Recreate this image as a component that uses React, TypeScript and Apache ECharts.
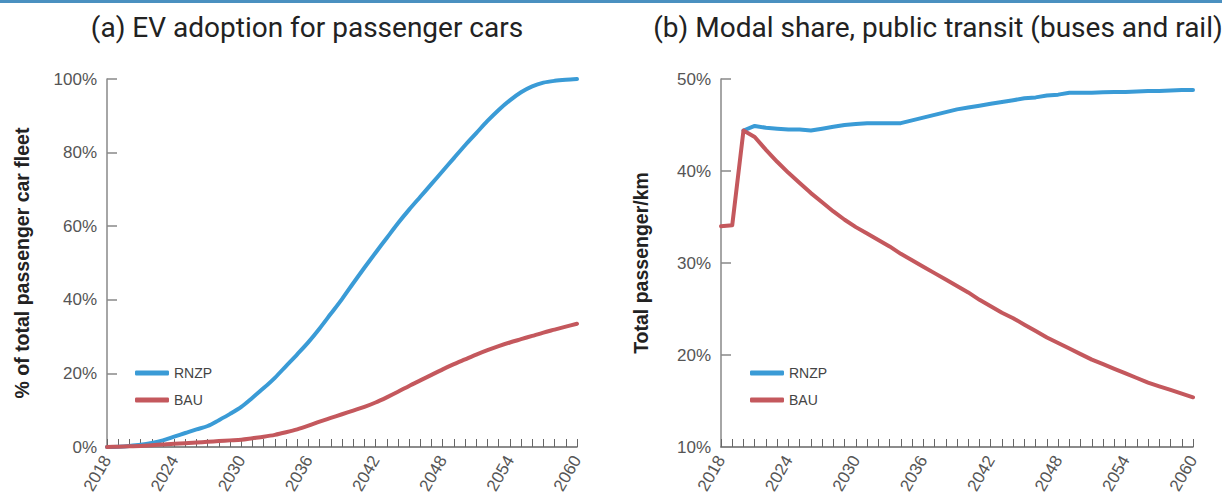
import React, { useEffect, useRef } from "react";
import * as echarts from "echarts";

const years: string[] = [];
for (let y = 2018; y <= 2060; y++) years.push(String(y));

const evRNZP = [
  0, 0.1, 0.3, 0.6, 1.1, 1.8, 2.8, 3.8, 4.8, 5.7, 7.3, 9.0, 10.9, 13.4, 16.0, 18.8,
  22.0, 25.2, 28.5, 32.2, 36.2, 40.2, 44.5, 48.7, 52.8, 56.8, 60.8, 64.5, 68.0, 71.5,
  75.0, 78.5, 82.0, 85.3, 88.6, 91.6, 94.2, 96.4, 98.0, 99.0, 99.5, 99.8, 100,
];
const evBAU = [
  0, 0.1, 0.2, 0.3, 0.5, 0.7, 0.9, 1.0, 1.2, 1.4, 1.6, 1.8, 2.0, 2.4, 2.8, 3.3, 4.0,
  4.8, 5.8, 6.9, 7.9, 8.9, 9.9, 10.9, 12.1, 13.5, 15.0, 16.6, 18.1, 19.6, 21.1, 22.5,
  23.8, 25.1, 26.3, 27.4, 28.4, 29.3, 30.2, 31.1, 31.9, 32.7, 33.5,
];
const ptRNZP: (number | null)[] = [
  null, null, 44.4, 44.9, 44.7, 44.6, 44.5, 44.5, 44.4, 44.6, 44.8, 45.0, 45.1, 45.2,
  45.2, 45.2, 45.2, 45.5, 45.8, 46.1, 46.4, 46.7, 46.9, 47.1, 47.3, 47.5, 47.7, 47.9,
  48.0, 48.2, 48.3, 48.5, 48.5, 48.5, 48.55, 48.6, 48.6, 48.65, 48.7, 48.7, 48.75,
  48.8, 48.8,
];
const ptBAU = [
  34.0, 34.1, 44.4, 43.7, 42.3, 41.0, 39.8, 38.7, 37.6, 36.6, 35.6, 34.7, 33.9, 33.2,
  32.5, 31.8, 31.0, 30.3, 29.6, 28.9, 28.2, 27.5, 26.8, 26.0, 25.3, 24.6, 24.0, 23.3,
  22.6, 21.9, 21.3, 20.7, 20.1, 19.5, 19.0, 18.5, 18.0, 17.5, 17.0, 16.6, 16.2, 15.8,
  15.4,
];
const titles = ["(a) EV adoption for passenger cars", "(b) Modal share, public transit (buses and rail)"];
const yNames = ["% of total passenger car fleet", "Total passenger/km"];
const seriesNames = ["RNZP", "BAU"];

const BLUE = "#3a9bd6";
const RED = "#c4585d";
const LABEL = "#555555";
const FONT = "'Liberation Sans', Arial, sans-serif";

export default function App() {
  const ref = useRef<HTMLDivElement>(null);
  useEffect(() => {
    document.body.style.margin = "0";
    const chart = echarts.init(ref.current!, undefined, { renderer: "svg" });
    const xAxisBase = (gridIndex: number) => ({
      type: "category" as const,
      gridIndex,
      data: years,
      boundaryGap: false,
      axisLine: { lineStyle: { color: "#666", width: 1.5 } },
      axisTick: { show: true, inside: true, interval: 0, length: 8, lineStyle: { color: "#666", width: 1 } },
      axisLabel: {
        interval: 5,
        rotate: 60,
        color: LABEL,
        fontSize: 17,
        fontFamily: FONT,
        margin: 10,
      },
      splitLine: { show: false },
    });
    const yAxisBase = (gridIndex: number, min: number, max: number, interval: number, nameGap: number) => ({
      type: "value" as const,
      gridIndex,
      min,
      max,
      interval,
      name: yNames[gridIndex],
      nameLocation: "middle" as const,
      nameGap,
      nameTextStyle: { fontSize: 19.5, fontWeight: "bold" as const, color: "#222", fontFamily: FONT },
      axisLine: { show: true, lineStyle: { color: "#888", width: 1.5 } },
      axisTick: { show: true, inside: true, length: 10, lineStyle: { color: "#888", width: 1.5 } },
      axisLabel: { formatter: "{value}%", color: LABEL, fontSize: 17, fontFamily: FONT, margin: 10 },
      splitLine: { show: false },
    });
    const lineSeries = (name: string, data: (number | null)[], idx: number, color: string, smooth: boolean) => ({
      type: "line" as const,
      name,
      data,
      xAxisIndex: idx,
      yAxisIndex: idx,
      showSymbol: false,
      symbol: "none",
      smooth: smooth ? 0.3 : false,
      lineStyle: { color, width: 4, cap: "round" as const, join: "round" as const },
      itemStyle: { color },
    });
    const legendBase = (left: number) => ({
      orient: "vertical" as const,
      left,
      top: 361,
      icon: "roundRect",
      itemWidth: 34,
      itemHeight: 5,
      itemGap: 13,
      selectedMode: false,
      data: seriesNames,
      textStyle: { fontSize: 14, color: "#444", fontFamily: "'Liberation Sans Narrow', 'Liberation Sans', sans-serif" },
    });
    const titleStyle = { fontSize: 28, fontWeight: "normal" as const, color: "#222", fontFamily: "Roboto, sans-serif" };
    chart.setOption({
      animation: false,
      backgroundColor: "#fff",
      title: [
        { text: titles[0], left: 302, top: 8, textAlign: "center", textStyle: titleStyle },
        { text: titles[1], left: 933, top: 8, textAlign: "center", textStyle: titleStyle },
      ],
      graphic: [
        { type: "rect", shape: { x: 0, y: 0, width: 1222, height: 3 }, style: { fill: "#4a90c0" } },
      ],
      legend: [legendBase(130), legendBase(745)],
      grid: [
        { left: 107, top: 79, width: 470, height: 368 },
        { left: 721, top: 79, width: 472, height: 368 },
      ],
      xAxis: [xAxisBase(0), xAxisBase(1)],
      yAxis: [yAxisBase(0, 0, 100, 20, 75), yAxisBase(1, 10, 50, 10, 70)],
      series: [
        lineSeries("RNZP", evRNZP, 0, BLUE, true),
        lineSeries("BAU", evBAU, 0, RED, true),
        lineSeries("RNZP", ptRNZP, 1, BLUE, false),
        lineSeries("BAU", ptBAU, 1, RED, false),
      ],
    });
    return () => chart.dispose();
  }, []);
  return <div ref={ref} style={{ width: 1222, height: 500 }} />;
}
